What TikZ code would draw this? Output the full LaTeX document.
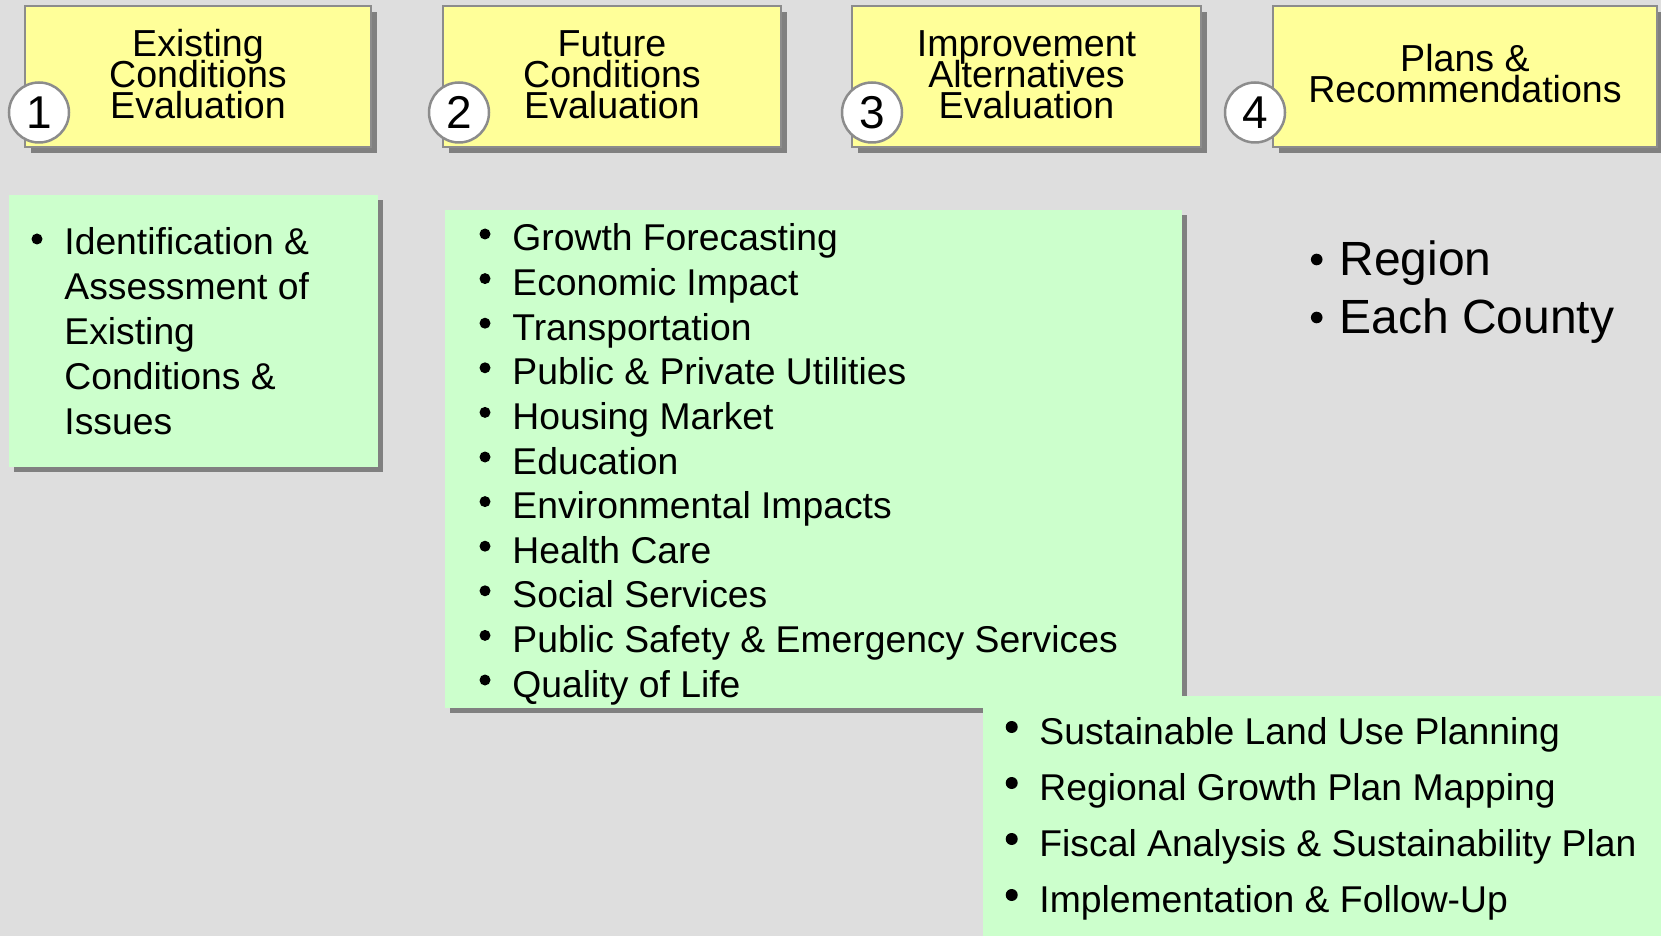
\documentclass[tikz,border=0pt]{standalone}
\usepackage{fontspec}
\setmainfont{Liberation Sans}
\usepackage{tikz}
\usetikzlibrary{positioning,shadows}
\usepackage{xcolor}
\definecolor{pagegray}{RGB}{222,222,222}
\definecolor{stageyellow}{RGB}{255,255,153}
\definecolor{listgreen}{RGB}{204,255,204}
\definecolor{shadegray}{RGB}{128,128,128}
\definecolor{rimgray}{RGB}{140,140,140}
\newcommand{\stagefont}{\fontsize{18.8}{15.5}\selectfont\lineskiplimit=-20pt\relax}
\tikzstyle{stagebox} = [draw=rimgray, line width=1pt, fill=stageyellow, inner sep=0pt, minimum height=70.5pt, drop shadow={shadow xshift=3pt, shadow yshift=-3pt, fill=shadegray, opacity=1}]
\tikzstyle{stagetitle} = [align=center, inner sep=0pt, font=\stagefont]
\tikzstyle{stagenum} = [circle, draw=rimgray, line width=1.25pt, fill=white, minimum size=30pt, inner sep=0pt, font=\fontsize{23}{23}\selectfont]
\tikzstyle{listbox} = [fill=listgreen, inner sep=0pt, drop shadow={shadow xshift=2.5pt, shadow yshift=-2.5pt, fill=shadegray, opacity=1}]
\tikzstyle{listtext} = [anchor=base west, inner sep=0pt, font=\fontsize{18.65}{18.65}\selectfont]

\begin{document}
\begin{tikzpicture}[x=0.5pt, y=-0.5pt]
\useasboundingbox (0,0) rectangle (1661,936);
\fill[pagegray] (0,0) rectangle (1661,936);
% the four stages
\node[stagebox, minimum width=173pt] (stage1) at (198,76.5) {};
\node[stagebox, minimum width=169pt] (stage2) at (612,76.5) {};
\node[stagebox, minimum width=174.5pt] (stage3) at (1026.5,76.5) {};
\node[stagebox, minimum width=192pt] (stage4) at (1465,76.5) {};
\node[stagetitle] (title1) at ([yshift=1pt]stage1.center) {Existing\\Conditions\\Evaluation};
\node[stagetitle] (title2) at ([yshift=1pt]stage2.center) {Future\\Conditions\\Evaluation};
\node[stagetitle] (title3) at ([yshift=1pt]stage3.center) {Improvement\\Alternatives\\Evaluation};
\node[stagetitle] (title4) at ([yshift=1.5pt]stage4.center) {Plans \&\\Recommendations};
\node[stagenum] (num1) at (39,112.5) {1};
\node[stagenum] (num2) at (459,112.5) {2};
\node[stagenum] (num3) at (872,112.5) {3};
\node[stagenum] (num4) at (1255,112.5) {4};
% green lists
\node[listbox, minimum width=184.5pt, minimum height=136pt] (listA) at (193.5,331) {};
\node[listbox, minimum width=368.5pt, minimum height=249pt] (listB) at (813.5,459) {};
\node[fill=listgreen, inner sep=0pt, minimum width=339pt, minimum height=120pt] (listC) at (1322,816) {};
\fill (37,239) circle (2.75pt);
\foreach \txt [count=\i from 0] in {Identification \&, Assessment of, Existing, Conditions \&, Issues}
  \node[listtext] (ident\i) at (64,{255+44.8*\i}) {\txt};
\foreach \txt [count=\i from 0] in {Growth Forecasting, Economic Impact, Transportation, Public \& Private Utilities, Housing Market, Education, Environmental Impacts, Health Care, Social Services, Public Safety \& Emergency Services, Quality of Life} {
  \fill (485,{234+44.6*\i}) circle (2.75pt);
  \node[listtext] (topic\i) at (512,{251+44.6*\i}) {\txt};
}
\foreach \txt [count=\i from 0] in {Sustainable Land Use Planning, Regional Growth Plan Mapping, Fiscal Analysis \& Sustainability Plan, Implementation \& Follow-Up} {
  \fill (1011.7,{727+56*\i}) circle (3pt);
  \node[listtext] (task\i) at (1039,{744+56*\i}) {\txt};
}
% scope of the plans
\fill (1316.7,259.5) circle (2.9pt);
\fill (1316.7,317.5) circle (2.9pt);
\node[listtext, font=\fontsize{24}{24}\selectfont] (area1) at (1339,276) {Region};
\node[listtext, font=\fontsize{24}{24}\selectfont] (area2) at (1339,334) {Each County};
\end{tikzpicture}
\end{document}
